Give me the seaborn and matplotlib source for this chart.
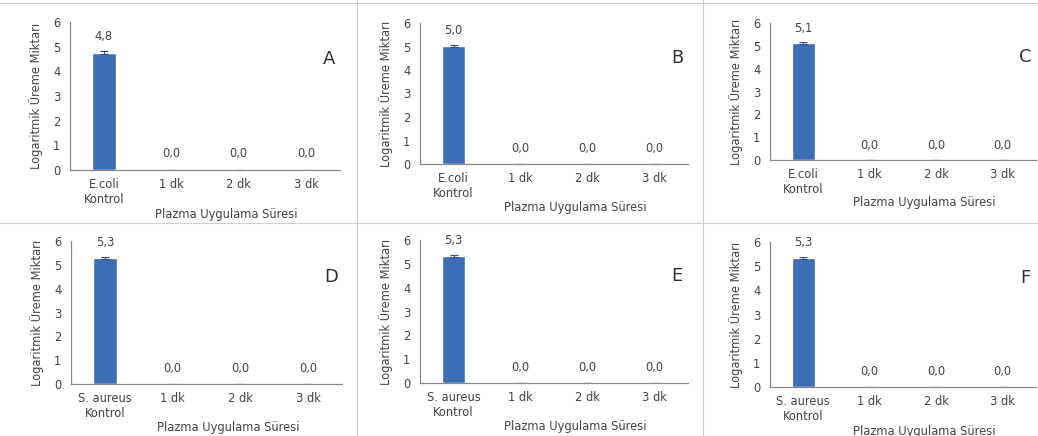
import numpy as np
import pandas as pd
import seaborn as sns
import matplotlib.pyplot as plt
from matplotlib.lines import Line2D

sns.set_style('white')
plt.rcParams['font.family'] = ['DejaVu Sans']

# data
ecoli_cats = ['E.coli\nKontrol', '1 dk', '2 dk', '3 dk']
saureus_cats = ['S. aureus\nKontrol', '1 dk', '2 dk', '3 dk']
vals_A = [4.76, 0, 0, 0]
vals_B = [5.02, 0, 0, 0]
vals_C = [5.12, 0, 0, 0]
vals_D = [5.27, 0, 0, 0]
vals_E = [5.31, 0, 0, 0]
vals_F = [5.33, 0, 0, 0]
err_A = [0.05, 0, 0, 0]
err_B = [0.04, 0, 0, 0]
err_C = [0.05, 0, 0, 0]
err_D = [0.04, 0, 0, 0]
err_E = [0.04, 0, 0, 0]
err_F = [0.04, 0, 0, 0]
letters = ['A', 'B', 'C', 'D', 'E', 'F']
ylab = 'Logaritmik Üreme Miktarı'
xlab = 'Plazma Uygulama Süresi'

panels = [
    (ecoli_cats, vals_A, err_A),
    (ecoli_cats, vals_B, err_B),
    (ecoli_cats, vals_C, err_C),
    (saureus_cats, vals_D, err_D),
    (saureus_cats, vals_E, err_E),
    (saureus_cats, vals_F, err_F),
]

# axes boxes in pixels: left, right, zero line, top (6)
boxes = [
    (70, 340, 170, 22), (420, 688, 164, 23), (770, 1036, 160, 23),
    (71, 342, 384, 241), (420, 688, 383, 240), (770, 1036, 387, 242),
]

W, H = 1038, 436
fig = plt.figure(figsize=(W / 100, H / 100), dpi=100)

bar_col = '#3d6db5'
txt_col = '#444444'
ax_col = '#8a8a8a'
fs = 8.3

for (cats, vals, errs), (l, r, z, t), letter in zip(panels, boxes, letters):
    ax = fig.add_axes([l / W, (H - z) / H, (r - l) / W, (z - t) / H])
    df = pd.DataFrame({'kat': cats, 'deger': vals})
    sns.barplot(data=df, x='kat', y='deger', color=bar_col, width=0.35,
                saturation=1, errorbar=None, ax=ax)
    pos = np.arange(len(cats))
    ax.errorbar(pos, vals, yerr=errs, fmt='none', ecolor='#2a4f8a',
                elinewidth=0.8, capsize=3, capthick=0.8)
    for p, v in zip(pos, vals):
        ax.text(p, v + 0.65, f'{v:.1f}'.replace('.', ','), ha='center',
                va='center', fontsize=fs, color=txt_col)
    ax.set_ylim(0, 6)
    ax.set_xlim(-0.5, len(cats) - 0.5)
    ax.set_yticks(range(7))
    ax.tick_params(axis='y', labelsize=fs, colors=txt_col, length=3,
                   width=0.8, color=ax_col, pad=4)
    ax.tick_params(axis='x', which='major', length=0, labelsize=fs,
                   colors=txt_col, pad=6)
    ax.set_xticks(np.arange(len(cats) + 1) - 0.5, minor=True)
    ax.tick_params(axis='x', which='minor', direction='inout', length=5,
                   width=0.8, color=ax_col)
    for s in ['top', 'right']:
        ax.spines[s].set_visible(False)
    for s in ['left', 'bottom']:
        ax.spines[s].set_color(ax_col)
        ax.spines[s].set_linewidth(0.9)
    ax.set_ylabel(ylab, fontsize=fs, color=txt_col, labelpad=7)
    ax.set_xlabel(xlab, fontsize=fs, color=txt_col)
    ax.xaxis.set_label_coords(0.58, -0.26)
    ax.text(0.96, 0.75, letter, transform=ax.transAxes, ha='center',
            va='center', fontsize=13, color='#333333')

# light frame lines between the panels
sep = '#d0d0d0'
for xs in [357, 703]:
    fig.add_artist(Line2D([xs / W, xs / W], [0, 1], color=sep, lw=0.8))
fig.add_artist(Line2D([0, 1], [(H - 223) / H, (H - 223) / H], color=sep, lw=0.8))
fig.add_artist(Line2D([0, 1], [(H - 3) / H, (H - 3) / H], color=sep, lw=0.8))

fig.savefig('out.png', dpi=100)
